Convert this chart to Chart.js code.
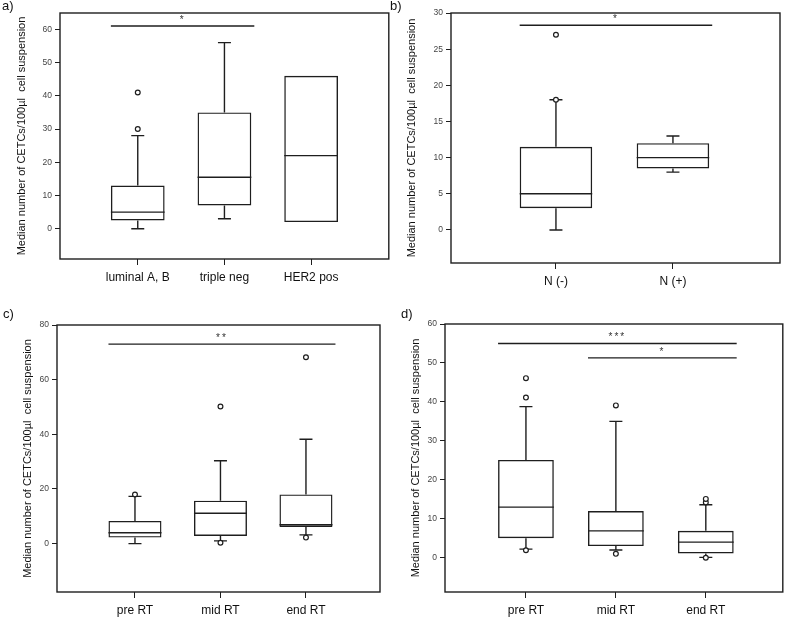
<!DOCTYPE html>
<html lang="en">
<head>
    <meta charset="UTF-8">
    <title>Median number of CETCs</title>
    <script src="https://cdn.jsdelivr.net/npm/chart.js"></script>
    <style>
        body {
            margin: 0;
            background: #fff;
            font-family: "Liberation Sans", Arial, sans-serif;
        }
        #wrap {
            position: relative;
            width: 788px;
            height: 619px;
            overflow: hidden;
        }
        .panel {
            position: absolute;
        }
        .tag {
            position: absolute;
            font-size: 13px;
            color: #111;
        }
    </style>
</head>
<body>
<div id="wrap">
    <div class="panel" style="left:0;top:0"><canvas id="chartA" width="394" height="300"></canvas></div>
    <div class="panel" style="left:394px;top:0"><canvas id="chartB" width="394" height="300"></canvas></div>
    <div class="panel" style="left:0;top:300px"><canvas id="chartC" width="394" height="319"></canvas></div>
    <div class="panel" style="left:394px;top:300px"><canvas id="chartD" width="394" height="319"></canvas></div>
    <span class="tag" style="left:2px;top:-2px">a)</span>
    <span class="tag" style="left:390px;top:-2px">b)</span>
    <span class="tag" style="left:3px;top:306px">c)</span>
    <span class="tag" style="left:401px;top:306px">d)</span>
</div>

<script>
    var yTitle = 'Median number of CETCs/100\u00b5l  cell suspension';

    // a) tumour subtype
    var catsA = ['luminal A, B', 'triple neg', 'HER2 pos'];
    var loA = [0, 3, null];
    var q1A = [2.5, 7, 2];
    var medA = [5, 15.5, 22];
    var q3A = [13, 35, 46];
    var hiA = [28, 56, null];
    var outA = [[30, 41], [], []];
    var ticksA = [0, 10, 20, 30, 40, 50, 60];
    var sigA = [{ from: 1, to: 2, y: 61, label: '*' }];

    // b) nodal status
    var catsB = ['N (-)', 'N (+)'];
    var loB = [0, 8];
    var q1B = [3, 8.5];
    var medB = [5, 10];
    var q3B = [11.5, 12];
    var hiB = [18, 13];
    var outB = [[18, 27], []];
    var ticksB = [0, 5, 10, 15, 20, 25, 30];
    var sigB = [{ from: 1, to: 2, y: 28.3, label: '*' }];

    // c) radiotherapy time points
    var catsC = ['pre RT', 'mid RT', 'end RT'];
    var loC = [0, 1, 3.2];
    var q1C = [2.2, 2.8, 6.1];
    var medC = [4, 11.1, 6.9];
    var q3C = [8.3, 15.7, 18];
    var hiC = [17.3, 30.3, 38.2];
    var outC = [[18], [0.3, 50.2], [2.2, 68.2]];
    var ticksC = [0, 20, 40, 60, 80];
    var sigC = [{ from: 1, to: 3, y: 73, label: '**' }];

    // d) radiotherapy time points
    var catsD = ['pre RT', 'mid RT', 'end RT'];
    var loD = [2.2, 2, 0.1];
    var q1D = [5, 3, 1.1];
    var medD = [13, 6.9, 4];
    var q3D = [25.1, 12, 6.9];
    var hiD = [38.8, 35, 13.6];
    var outD = [[1.9, 41.1, 46.1], [1, 39.1], [0, 14.2, 15.1]];
    var ticksD = [0, 10, 20, 30, 40, 50, 60];
    var sigD = [
        { from: 1, to: 3, y: 55, label: '***' },
        { from: 2, to: 3, y: 51.3, label: '*' }
    ];

    var INK = '#1e1e1e';

    function boxChart(id, p) {
        var boxes = p.q1.map(function (v, i) { return { x: i + 1, y: [v, p.q3[i]] }; });
        var dots = [];
        p.out.forEach(function (list, i) {
            list.forEach(function (v) { dots.push({ x: i + 1, y: v }); });
        });

        // whiskers, caps, medians and significance bars, placed through the scales
        var extras = {
            id: 'extras_' + id,
            beforeDatasetsDraw: function (chart) {
                var ctx = chart.ctx, xs = chart.scales.x, ys = chart.scales.y;
                var bars = chart.getDatasetMeta(1).data;
                ctx.save();
                ctx.strokeStyle = INK;
                ctx.lineWidth = 1.4;
                p.q1.forEach(function (v, i) {
                    var cx = xs.getPixelForValue(i + 1);
                    var half = bars[i].width / 2;
                    ctx.beginPath();
                    if (p.lo[i] !== null) {
                        ctx.moveTo(cx, ys.getPixelForValue(p.q1[i]));
                        ctx.lineTo(cx, ys.getPixelForValue(p.lo[i]));
                        ctx.moveTo(cx - 6.5, ys.getPixelForValue(p.lo[i]));
                        ctx.lineTo(cx + 6.5, ys.getPixelForValue(p.lo[i]));
                    }
                    if (p.hi[i] !== null) {
                        ctx.moveTo(cx, ys.getPixelForValue(p.q3[i]));
                        ctx.lineTo(cx, ys.getPixelForValue(p.hi[i]));
                        ctx.moveTo(cx - 6.5, ys.getPixelForValue(p.hi[i]));
                        ctx.lineTo(cx + 6.5, ys.getPixelForValue(p.hi[i]));
                    }
                    ctx.moveTo(cx - half, ys.getPixelForValue(p.med[i]));
                    ctx.lineTo(cx + half, ys.getPixelForValue(p.med[i]));
                    ctx.stroke();
                });
                var half0 = bars[0].width / 2;
                p.sig.forEach(function (s) {
                    var x1 = xs.getPixelForValue(s.from) - half0;
                    var x2 = xs.getPixelForValue(s.to) + half0 + 3;
                    var yy = ys.getPixelForValue(s.y);
                    ctx.beginPath();
                    ctx.moveTo(x1, yy);
                    ctx.lineTo(x2, yy);
                    ctx.stroke();
                    ctx.fillStyle = '#333';
                    ctx.font = '10px "Liberation Sans", Arial, sans-serif';
                    ctx.letterSpacing = '2px';
                    ctx.textAlign = 'center';
                    ctx.textBaseline = 'alphabetic';
                    ctx.fillText(s.label, (x1 + x2) / 2, yy - 3);
                });
                ctx.restore();
            },
            afterDraw: function (chart) {
                var a = chart.chartArea, ctx = chart.ctx;
                ctx.save();
                ctx.strokeStyle = INK;
                ctx.lineWidth = 1.4;
                ctx.strokeRect(a.left, a.top, a.right - a.left, a.bottom - a.top);
                ctx.restore();
            }
        };

        return new Chart(document.getElementById(id), {
            type: 'bar',
            data: {
                datasets: [{
                    type: 'scatter',
                    data: dots,
                    pointStyle: 'circle',
                    pointRadius: 2.4,
                    borderWidth: 1.2,
                    borderColor: INK,
                    backgroundColor: '#fff'
                }, {
                    data: boxes,
                    backgroundColor: 'rgba(0,0,0,0)',
                    borderColor: INK,
                    borderWidth: 1.4,
                    borderSkipped: false,
                    categoryPercentage: 0.62,
                    barPercentage: 1
                }]
            },
            options: {
                responsive: false,
                animation: false,
                events: [],
                layout: { padding: { left: 0, right: p.padRight, top: p.padTop, bottom: 0 } },
                plugins: { legend: { display: false }, tooltip: { enabled: false } },
                scales: {
                    x: {
                        type: 'linear',
                        offset: false,
                        min: p.xMin,
                        max: p.xMax,
                        afterBuildTicks: function (s) {
                            s.ticks = p.cats.map(function (c, i) { return { value: i + 1 }; });
                        },
                        afterFit: function (s) { s.height = p.xHeight; },
                        grid: { offset: false, drawOnChartArea: false, drawTicks: true, tickLength: 6, color: INK },
                        border: { display: false },
                        ticks: {
                            padding: 5,
                            color: '#111',
                            maxRotation: 0,
                            autoSkip: false,
                            font: { family: '"Liberation Sans", Arial, sans-serif', size: 12 },
                            callback: function (v, i) { return p.cats[i]; }
                        }
                    },
                    y: {
                        min: p.yMin,
                        max: p.yMax,
                        afterBuildTicks: function (s) {
                            s.ticks = p.ticks.map(function (v) { return { value: v }; });
                        },
                        afterFit: function (s) { s.width = p.yWidth; },
                        grid: { drawOnChartArea: false, drawTicks: true, tickLength: 5, color: INK },
                        border: { display: false },
                        ticks: {
                            padding: 3,
                            color: '#444',
                            font: { family: '"Liberation Sans", Arial, sans-serif', size: 8.5 }
                        },
                        title: {
                            display: true,
                            text: yTitle,
                            color: '#111',
                            padding: { top: p.titlePad, bottom: 0 },
                            font: { family: '"Liberation Sans", Arial, sans-serif', size: 11 }
                        }
                    }
                }
            },
            plugins: [extras]
        });
    }

    boxChart('chartA', {
        cats: catsA, lo: loA, q1: q1A, med: medA, q3: q3A, hi: hiA, out: outA, ticks: ticksA, sig: sigA,
        xMin: 0.103, xMax: 3.896, yMin: -9.1, yMax: 64.9,
        yWidth: 60, xHeight: 41, padTop: 13, padRight: 4, titlePad: 15
    });
    boxChart('chartB', {
        cats: catsB, lo: loB, q1: q1B, med: medB, q3: q3B, hi: hiB, out: outB, ticks: ticksB, sig: sigB,
        xMin: 0.103, xMax: 2.915, yMin: -4.57, yMax: 30,
        yWidth: 57, xHeight: 37, padTop: 13, padRight: 8, titlePad: 11
    });
    boxChart('chartC', {
        cats: catsC, lo: loC, q1: q1C, med: medC, q3: q3C, hi: hiC, out: outC, ticks: ticksC, sig: sigC,
        xMin: 0.088, xMax: 3.866, yMin: -17.7, yMax: 80,
        yWidth: 57, xHeight: 27, padTop: 25, padRight: 14, titlePad: 21
    });
    boxChart('chartD', {
        cats: catsD, lo: loD, q1: q1D, med: medD, q3: q3D, hi: hiD, out: outD, ticks: ticksD, sig: sigD,
        xMin: 0.1, xMax: 3.856, yMin: -8.8, yMax: 60,
        yWidth: 51, xHeight: 27, padTop: 24, padRight: 5, titlePad: 15
    });
</script>
</body>
</html>
